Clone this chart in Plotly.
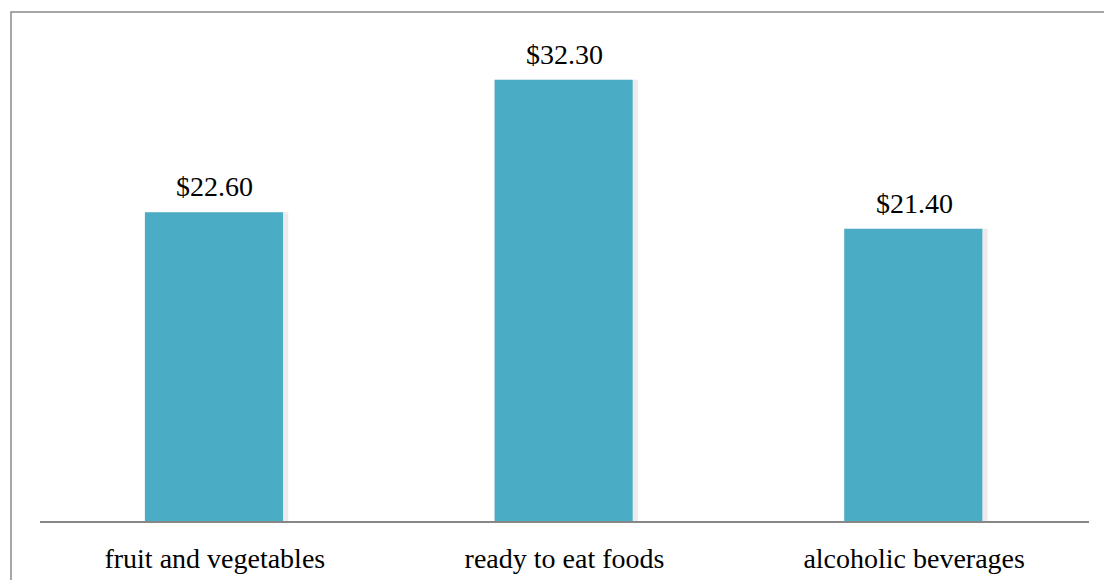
import plotly.graph_objects as go

categories = ["fruit and vegetables", "ready to eat foods", "alcoholic beverages"]
values = [22.6, 32.3, 21.4]
labels = ["$22.60", "$32.30", "$21.40"]

FONT = "Liberation Serif"
BAR = "#4BACC6"

fig = go.Figure()
# subtle shadow behind bars
fig.add_trace(go.Bar(
    x=categories, y=values, width=0.41, offset=-0.2,
    marker=dict(color="rgba(0,0,0,0.08)", line=dict(width=0)),
    hoverinfo="skip", showlegend=False,
))
fig.add_trace(go.Bar(
    x=categories, y=values, width=0.395, offset=-0.2,
    marker=dict(color=BAR, line=dict(width=0)),
    showlegend=False,
))
for c, v, t in zip(categories, values, labels):
    fig.add_annotation(
        x=c, y=v, text=t, showarrow=False, yanchor="bottom", yshift=8,
        font=dict(family=FONT, size=28, color="#000000"),
    )

L, R, T, B = 40, 15, 43, 59
W, H = 1104, 580
pw, ph = W - L - R, H - T - B

fig.update_layout(
    width=W, height=H,
    margin=dict(l=L, r=R, t=T, b=B, autoexpand=False),
    paper_bgcolor="white", plot_bgcolor="white",
    barmode="overlay", bargap=0.6,
    xaxis=dict(
        showline=True, linecolor="#878787", linewidth=2, automargin=False,
        showgrid=False, ticks="outside", ticklen=11, tickcolor="rgba(0,0,0,0)",
        tickfont=dict(family=FONT, size=28, color="#000000"),
    ),
    yaxis=dict(range=[0, 35], visible=False, showgrid=False, automargin=False),
    shapes=[dict(
        type="rect", xref="paper", yref="paper",
        x0=(11 - L) / pw, x1=1 + (W + 10 - (W - R)) / pw,
        y0=-(B + 10) / ph, y1=1 + (T - 12) / ph,
        line=dict(color="#8a8a8a", width=1.5), fillcolor="rgba(0,0,0,0)",
        layer="below",
    )],
)

fig.write_html(
    "out.html",
    config={"displayModeBar": False},
    post_script="document.body.style.margin='0';document.body.style.overflow='hidden';",
)
